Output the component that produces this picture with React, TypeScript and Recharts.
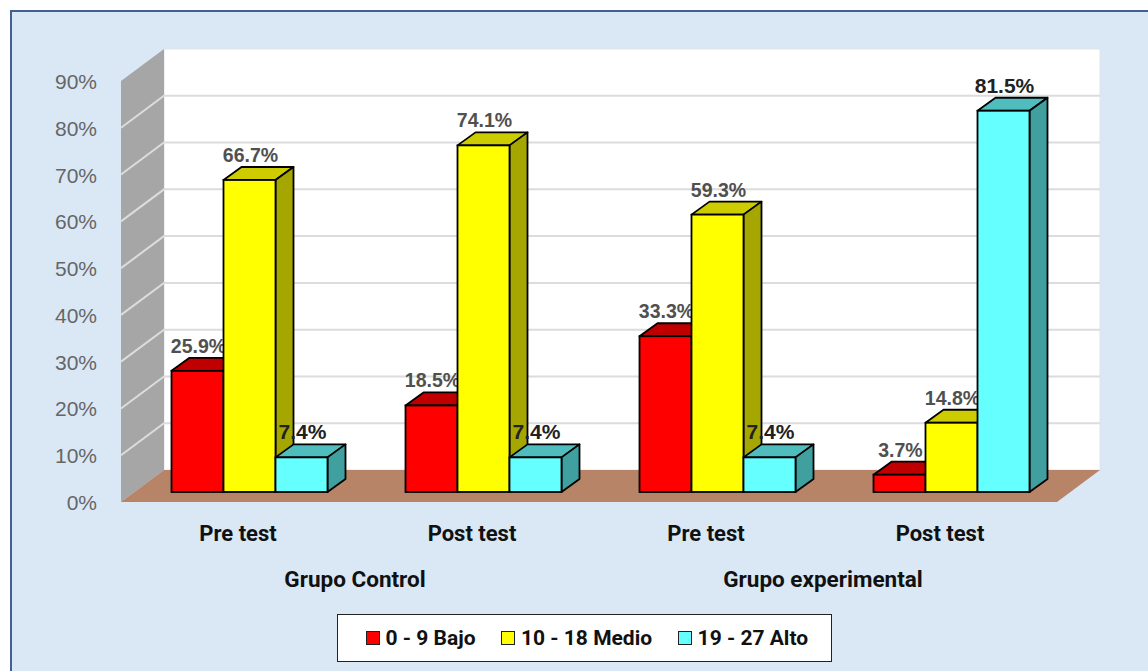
import React from "react";
import { Bar, BarChart, CartesianGrid, Legend, XAxis, YAxis } from "recharts";

const TESTS = ["Pre test", "Post test", "Pre test", "Post test"];
const GROUPS = ["Grupo Control", "Grupo Control", "Grupo experimental", "Grupo experimental"];
const BAJO = [25.9, 18.5, 33.3, 3.7];
const MEDIO = [66.7, 74.1, 59.3, 14.8];
const ALTO = [7.4, 7.4, 7.4, 81.5];
const Y_TICKS = [0, 10, 20, 30, 40, 50, 60, 70, 80, 90];

const data = TESTS.map((test, i) => ({
  test,
  group: GROUPS[i],
  bajo: BAJO[i],
  medio: MEDIO[i],
  alto: ALTO[i],
}));

// the 3D look: bars sit a little behind the front edge of the floor
const BAR_DX = 18;
const BAR_DY = -13;
const BACK_DX = 31;
const BACK_DY = -22;
const FRONT_DX = -12;
const FRONT_DY = 10;

const makeBarShape = (key: string, top: string, side: string, labelSize: number, labelColor: string) => (props: any) => {
  const { x, y, width, height, fill, payload } = props;
  const r = x + width;
  const b = y + height;
  return (
    <g>
      <polygon
        points={`${x},${y} ${x + BAR_DX},${y + BAR_DY} ${r + BAR_DX},${y + BAR_DY} ${r},${y}`}
        fill={top}
        stroke="#000"
        strokeWidth={1.8}
        strokeLinejoin="round"
      />
      <polygon
        points={`${r},${y} ${r + BAR_DX},${y + BAR_DY} ${r + BAR_DX},${b + BAR_DY} ${r},${b}`}
        fill={side}
        stroke="#000"
        strokeWidth={1.8}
        strokeLinejoin="round"
      />
      <rect x={x} y={y} width={width} height={height} fill={fill} stroke="#000" strokeWidth={1.8} />
      <text
        x={x + width / 2 + 1}
        y={y - 18}
        textAnchor="middle"
        fontFamily="Liberation Sans"
        fontWeight={700}
        fontSize={labelSize}
        fill={labelColor}
      >
        {`${payload[key].toFixed(1)}%`}
      </text>
    </g>
  );
};

// grid lines run along the side wall and the back wall; walls and floor go in with the first line
const GridLine = (props: any) => {
  const { x, y, width, height, x1, x2, y1, index } = props;
  const l = x;
  const r = x + width;
  const t = y;
  const b = y + height;
  const fl = l + FRONT_DX;
  const fr = r + FRONT_DX;
  const fb = b + FRONT_DY;
  const ft = t + FRONT_DY;
  const bl = l + BACK_DX;
  const br = r + BACK_DX;
  const bb = b + BACK_DY;
  const bt = t + BACK_DY;
  return (
    <g key={`line-${index}`}>
      {index === 0 && (
        <g>
          <rect x={bl} y={bt} width={br - bl} height={bb - bt} fill="#fff" stroke="#dfe3e8" strokeWidth={1} />
          <polygon points={`${fl},${ft} ${bl},${bt} ${bl},${bb} ${fl},${fb}`} fill="#a6a6a6" />
          <polygon points={`${fl},${fb} ${bl},${bb} ${br},${bb} ${fr},${fb}`} fill="#b88468" />
        </g>
      )}
      {Math.abs(y1 - b) > 1 && Math.abs(y1 - t) > 1 && (
        <polyline
          points={`${x1 + FRONT_DX},${y1 + FRONT_DY} ${x1 + BACK_DX},${y1 + BACK_DY} ${x2 + BACK_DX},${y1 + BACK_DY}`}
          fill="none"
          stroke="#dcdcdc"
          strokeWidth={2}
        />
      )}
    </g>
  );
};

const YTick = ({ x, y, payload }: any) => (
  <text x={x - 28} y={y + 18} textAnchor="end" fontFamily="Liberation Sans" fontSize={21} fill="#666">
    {`${payload.value}%`}
  </text>
);

const makeXTick = (dy: number, size: number) => ({ x, y, payload }: any) => (
  <text x={x - 12} y={y + dy} textAnchor="middle" fontFamily="Roboto" fontWeight={700} fontSize={size} fill="#111">
    {payload.value}
  </text>
);

const LegendBox = ({ payload }: any) => (
  <div
    style={{
      boxSizing: "border-box",
      width: 495,
      height: 48,
      background: "#fff",
      border: "1.5px solid #222",
      display: "flex",
      alignItems: "center",
      paddingLeft: 27.5,
      fontFamily: "Roboto",
      fontWeight: 700,
      fontSize: 21,
      color: "#111",
      whiteSpace: "nowrap",
    }}
  >
    {(payload || []).map((item: any) => (
      <span key={item.value} style={{ display: "flex", flexShrink: 0, alignItems: "center", marginRight: 25.5 }}>
        <span
          style={{
            boxSizing: "border-box",
            flexShrink: 0,
            width: 14,
            height: 14,
            background: item.color,
            border: "1.5px solid #222",
            marginRight: 6,
          }}
        />
        {item.value}
      </span>
    ))}
  </div>
);

export default function App() {
  return (
    <div style={{ position: "absolute", left: 0, top: 0, width: 1148, height: 671, background: "#fff", overflow: "hidden" }}>
      <div
        style={{
          position: "absolute",
          left: 10,
          top: 10,
          width: 1140,
          height: 670,
          background: "#dae8f6",
          border: "2px solid #44608f",
        }}
      />
      <div style={{ position: "absolute", left: 0, top: 0 }}>
        <BarChart
          width={1148}
          height={671}
          data={data}
          margin={{ top: 71, right: 79, bottom: 9, left: 73 }}
          barCategoryGap={38.5}
          barGap={0}
        >
          <CartesianGrid vertical={false} horizontal={GridLine} />
          <XAxis dataKey="test" axisLine={false} tickLine={false} height={61} interval={0} tick={makeXTick(41, 22)} />
          <XAxis
            xAxisId="group"
            dataKey="group"
            allowDuplicatedCategory={false}
            axisLine={false}
            tickLine={false}
            height={61}
            interval={0}
            tick={makeXTick(26, 22.5)}
          />
          <YAxis
            width={60}
            domain={[0, 90]}
            ticks={Y_TICKS}
            axisLine={false}
            tickLine={false}
            tick={YTick}
            interval={0}
          />
          <Legend
            verticalAlign="bottom"
            height={48}
            content={LegendBox}
            wrapperStyle={{ left: 337, width: 495 }}
          />
          <Bar
            dataKey="bajo"
            name="0 - 9 Bajo"
            fill="#ff0000"
            isAnimationActive={false}
            shape={makeBarShape("bajo", "#c00000", "#a00000", 19.5, "#505050")}
          />
          <Bar
            dataKey="medio"
            name="10 - 18 Medio"
            fill="#ffff00"
            isAnimationActive={false}
            shape={makeBarShape("medio", "#cccc00", "#a6a600", 19.5, "#505050")}
          />
          <Bar
            dataKey="alto"
            name="19 - 27 Alto"
            fill="#66ffff"
            isAnimationActive={false}
            shape={makeBarShape("alto", "#4fbdbd", "#409f9f", 21, "#222222")}
          />
        </BarChart>
      </div>
    </div>
  );
}
